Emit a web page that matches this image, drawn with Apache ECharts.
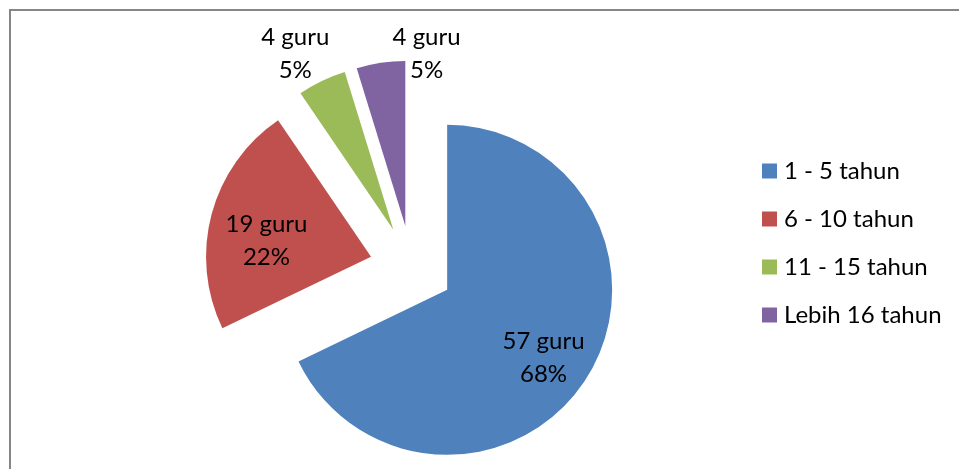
<!DOCTYPE html>
<html>
<head>
<meta charset="utf-8">
<script src="https://cdn.jsdelivr.net/npm/echarts@6/dist/echarts.min.js"></script>
<style>
  html, body { margin: 0; padding: 0; background: #fff; }
  #chart { width: 959px; height: 469px; }
</style>
</head>
<body>
<div id="chart"></div>
<script>
// data
const categories = ['1 - 5 tahun', '6 - 10 tahun', '11 - 15 tahun', 'Lebih 16 tahun'];
const teachers = [57, 19, 4, 4];
const percentLabels = ['68%', '22%', '5%', '5%'];
const colors = ['#4F81BD', '#C0504D', '#9BBB59', '#8064A2'];

// Excel-style label placement, shift from the default inside spot
const labelShift = [[24, 22], [-22, 6], [-61, -99], [34, -88]];

const font = 'Lato, "Open Sans", sans-serif';
const chart = echarts.init(document.getElementById('chart'));

chart.setOption({
  animation: false,
  legend: {
    orient: 'vertical',
    left: 757,
    top: 154,
    itemWidth: 15,
    itemHeight: 15,
    itemGap: 24,
    icon: 'rect',
    selectedMode: false,
    textStyle: { fontFamily: font, fontSize: 24, color: '#000', lineHeight: 24, padding: [0, 0, 0, 2] },
    data: categories
  },
  graphic: [{
    type: 'rect',
    shape: { x: 10, y: 10, width: 1000, height: 500 },
    style: { fill: 'none', stroke: '#868686', lineWidth: 2 },
    silent: true
  }],
  series: [{
    type: 'pie',
    center: [411.6, 267.5],
    radius: 165,
    startAngle: 90,
    clockwise: true,
    selectedMode: 'multiple',
    selectedOffset: 42,
    avoidLabelOverlap: false,
    emphasis: { disabled: true },
    label: {
      show: true,
      position: 'inside',
      fontFamily: font,
      fontSize: 24,
      lineHeight: 33,
      color: '#000',
      formatter: p => p.value + ' guru\n' + percentLabels[p.dataIndex]
    },
    labelLine: { show: false },
    labelLayout: p => ({ dx: labelShift[p.dataIndex][0], dy: labelShift[p.dataIndex][1] }),
    data: categories.map((name, i) => ({
      name,
      value: teachers[i],
      selected: true,
      itemStyle: { color: colors[i] }
    }))
  }]
});
</script>
</body>
</html>
